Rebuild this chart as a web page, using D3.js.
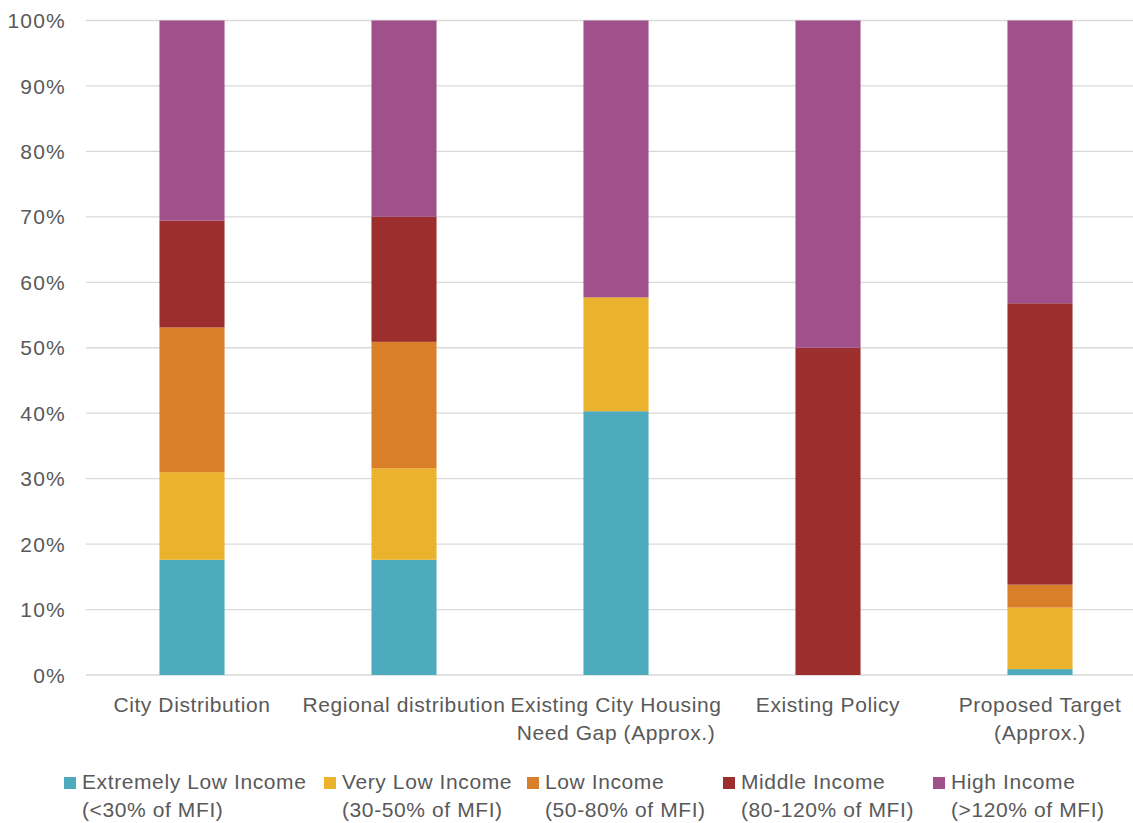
<!DOCTYPE html>
<html>
<head>
<meta charset="utf-8">
<script src="https://cdn.jsdelivr.net/npm/d3@7"></script>
<style>
  html, body { margin: 0; padding: 0; background: #fff; }
  svg { display: block; font-family: "Liberation Sans Narrow", "Arial Narrow", sans-serif; }
</style>
</head>
<body>
<svg id="chart" width="1133" height="823"></svg>
<script>
// Categories (each may span two lines)
const categories = [
  ["City Distribution"],
  ["Regional distribution"],
  ["Existing City Housing", "Need Gap (Approx.)"],
  ["Existing Policy"],
  ["Proposed Target", "(Approx.)"]
];

// Income band shares (%) per category, bottom to top
const extremelyLow = [17.6, 17.6, 40.3, 0, 0.9];
const veryLow      = [13.4, 14.0, 17.4, 0, 9.4];
const low          = [22.1, 19.3, 0, 0, 3.5];
const middle       = [16.3, 19.1, 0, 50, 43.0];
const high         = [30.6, 30.0, 42.3, 50, 43.2];

const seriesNames = [
  ["Extremely Low Income", "(<30% of MFI)"],
  ["Very Low Income", "(30-50% of MFI)"],
  ["Low Income", "(50-80% of MFI)"],
  ["Middle Income", "(80-120% of MFI)"],
  ["High Income", "(>120% of MFI)"]
];
const colors = ["#4EABBE", "#EBB22E", "#D97F29", "#9C2F2E", "#A0518C"];
const yTicks = [0, 10, 20, 30, 40, 50, 60, 70, 80, 90, 100];

const svg = d3.select("#chart");
const keys = ["eli", "vli", "li", "mi", "hi"];
const rows = categories.map((c, i) => ({
  idx: i,
  eli: extremelyLow[i], vli: veryLow[i], li: low[i], mi: middle[i], hi: high[i]
}));

const x = d3.scaleBand()
  .domain(rows.map(d => d.idx))
  .range([86, 1146])
  .paddingInner(0.693)
  .paddingOuter(0.3465);

const y = d3.scaleLinear().domain([0, 100]).range([675, 20.5]);

// Gridlines
svg.append("g")
  .selectAll("line")
  .data(yTicks)
  .join("line")
  .attr("x1", 86).attr("x2", 1133)
  .attr("y1", d => y(d)).attr("y2", d => y(d))
  .attr("stroke", "#d9d9d9")
  .attr("stroke-width", 1.3);

// Y tick labels
svg.append("g")
  .selectAll("text")
  .data(yTicks)
  .join("text")
  .attr("x", 66)
  .attr("y", d => y(d))
  .attr("dy", "0.36em")
  .attr("text-anchor", "end")
  .attr("fill", "#595959")
  .attr("font-size", 21)
  .attr("letter-spacing", 1.2)
  .text(d => d + "%");

// Stacked bars
const stack = d3.stack().keys(keys)(rows);
svg.append("g")
  .selectAll("g")
  .data(stack)
  .join("g")
  .attr("fill", (d, i) => colors[i])
  .selectAll("rect")
  .data(d => d.filter(s => s[1] - s[0] > 0))
  .join("rect")
  .attr("x", d => x(d.data.idx))
  .attr("width", x.bandwidth())
  .attr("y", d => y(d[1]))
  .attr("height", d => y(d[0]) - y(d[1]));

// Category labels
const catG = svg.append("g");
categories.forEach((lines, i) => {
  const cx = x(i) + x.bandwidth() / 2;
  const t = catG.append("text")
    .attr("x", cx)
    .attr("y", 712)
    .attr("text-anchor", "middle")
    .attr("fill", "#595959")
    .attr("font-size", 21)
    .attr("letter-spacing", 0.6);
  lines.forEach((ln, j) => {
    t.append("tspan")
      .attr("x", cx)
      .attr("dy", j === 0 ? 0 : 28)
      .text(ln);
  });
});

// Legend
const legendX = [64, 324, 527, 723, 933];
const leg = svg.append("g");
seriesNames.forEach((lines, i) => {
  leg.append("rect")
    .attr("x", legendX[i]).attr("y", 777)
    .attr("width", 12).attr("height", 12)
    .attr("fill", colors[i]);
  const t = leg.append("text")
    .attr("x", legendX[i] + 18)
    .attr("y", 789)
    .attr("fill", "#595959")
    .attr("font-size", 21)
    .attr("letter-spacing", 0.6);
  lines.forEach((ln, j) => {
    t.append("tspan")
      .attr("x", legendX[i] + 18)
      .attr("dy", j === 0 ? 0 : 28)
      .text(ln);
  });
});
</script>
</body>
</html>
